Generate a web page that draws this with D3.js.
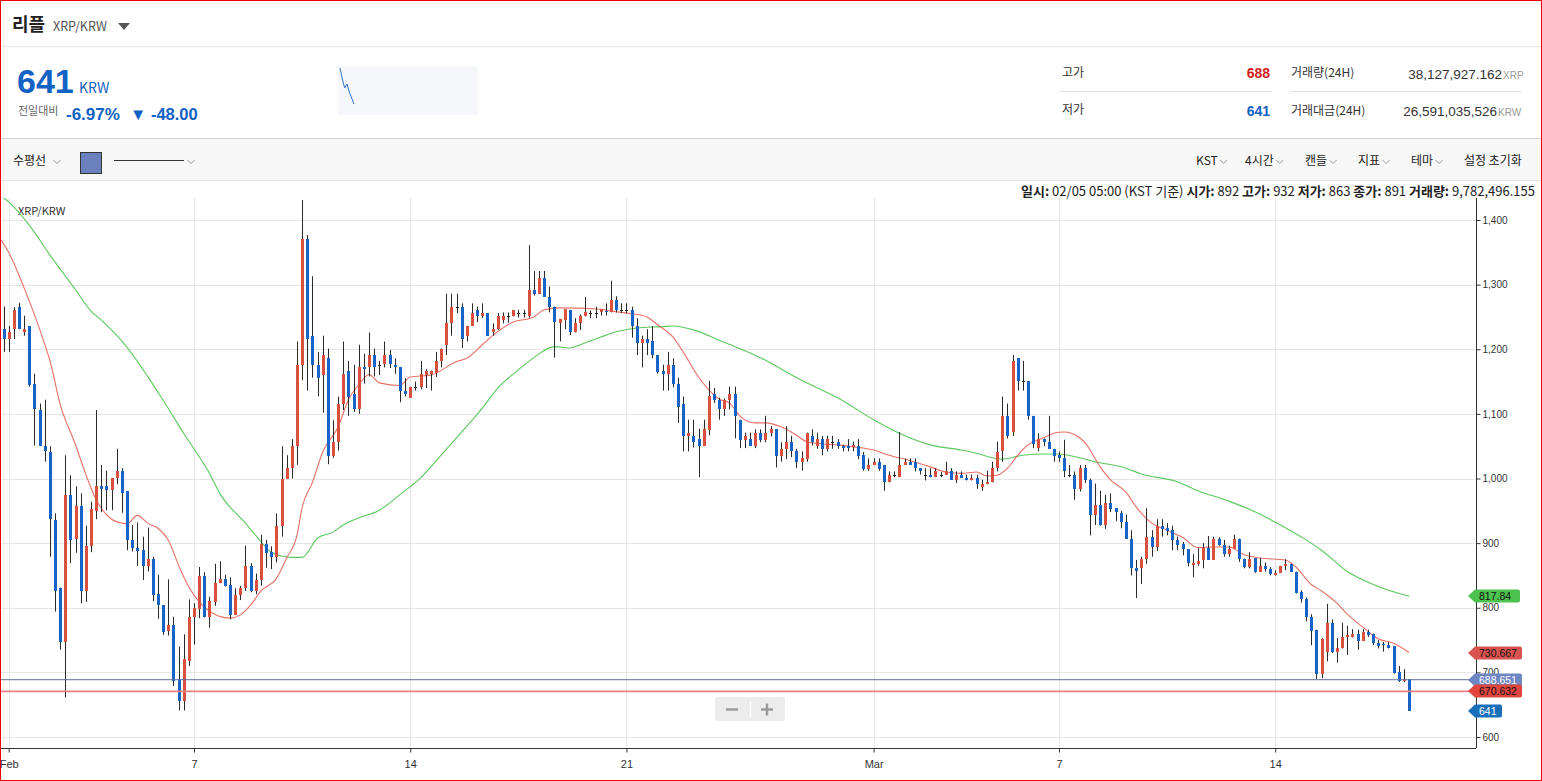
<!DOCTYPE html>
<html><head><meta charset="utf-8">
<script src="https://cdn.jsdelivr.net/npm/d3@7"></script>
<style>
html,body{margin:0;padding:0;background:#fff;}
body{width:1542px;height:781px;overflow:hidden;font-family:"Noto Sans CJK KR","Noto Sans",sans-serif;}
svg{display:block;}
</style></head><body>
<svg id="c" width="1542" height="781"></svg>
<script>
// ---------- DATA ----------
const firstCandleUTC = Date.UTC(2022, 0, 31, 20, 0); // 4-hour candles
const opens = [1231,1216,1231,1266,1226,1236,1146,1106,1051,1041, 936,831,747,975,906,957,826,895,950,988,
 988,982,1001,1012,980,905,893,889,865,875, 821,804,764,773,689,655,718,786,798,849,
 786,809,838,844,835,789,819,830,865,826, 843,899,887,878,926,1000,1016,1051,1176,1371,
 1221,1176,1160,1186,1035,1056,1116,1167,1131,1107, 1172,1172,1191,1176,1177,1191,1176,1172,1136,1125,
 1141,1141,1160,1161,1164,1182,1206,1241,1265,1265, 1221,1236,1261,1251,1256,1226,1231,1246,1252,1252,
 1256,1256,1251,1292,1286,1311,1281,1266,1241,1246, 1261,1226,1241,1251,1256,1256,1257,1259,1257,1276,
 1260,1260,1261,1236,1210,1216,1212,1191,1166,1161, 1176,1146,1116,1066,1066,1061,1051,1075,1131,1121,
 1107,1121,1131,1091,1060,1061,1051,1071,1060,1071, 1076,1035,1046,1056,1042,1026,1030,1066,1051,1061,
 1046,1056,1057,1051,1051,1049,1051,1036,1015,1021, 1026,1021,994,1006,1002,1021,1026,1026,1016,1006,
 1006,1002,1006,1006,1012,998,1006,1001,997,1001, 987,991,994,1016,1042,1097,1072,1186,1151,1151,
 1097,1047,1061,1056,1046,1036,1031,1006,1006,984, 1016,998,943,959,928,962,954,946,932,906,
 862,862,875,910,894,927,924,920,905,899, 891,866,868,874,893,874,906,897,883,891,
 906,875,863,877,856,865,860,850,854,864, 868,856,825,813,786,766,698,732,776,732,
 737,754,754,759,749,762,760,746,744,742, 741,701,686,689];
const highs = [1266,1236,1265,1272,1252,1236,1162,1116,1122,1050, 946,831,1036,1005,988,977,927,964,1106,1021,
 1012,1001,1046,1016,980,928,932,910,924,879, 851,804,844,786,740,759,813,807,863,855,
 817,868,872,851,847,830,834,896,869,853, 913,905,895,946,1050,1036,1061,1212,1431,1377,
 1313,1196,1221,1201,1090,1127,1212,1182,1176,1207, 1193,1226,1201,1182,1212,1199,1186,1172,1155,1142,
 1150,1182,1169,1167,1196,1201,1286,1286,1286,1271, 1236,1271,1266,1271,1256,1240,1256,1257,1257,1261,
 1261,1261,1361,1321,1321,1321,1297,1266,1247,1262, 1261,1248,1254,1281,1260,1266,1262,1271,1306,1282,
 1271,1271,1266,1248,1221,1231,1236,1191,1176,1196, 1186,1156,1127,1091,1091,1077,1091,1151,1140,1125,
 1124,1142,1142,1091,1071,1071,1076,1076,1097,1081, 1076,1056,1081,1066,1046,1042,1071,1076,1071,1066,
 1066,1066,1061,1052,1061,1057,1061,1041,1031,1031, 1031,1021,1011,1011,1072,1031,1031,1031,1016,1016,
 1016,1016,1010,1026,1016,1011,1011,1006,1006,1006, 998,1012,1026,1057,1127,1116,1191,1186,1182,1151,
 1097,1070,1062,1097,1046,1042,1060,1021,1011,1021, 1021,1000,992,981,975,977,954,950,944,920,
 874,879,954,920,937,937,931,927,910,902, 891,883,892,900,911,910,909,905,896,913,
 907,876,886,877,877,870,863,858,865,875, 868,856,827,816,790,766,753,806,782,753,
 777,772,767,766,767,766,760,750,747,747, 741,710,705,689];
const lows = [1196,1196,1216,1231,1221,1142,1051,1050,1026,879, 794,735,661,869,885,807,809,886,937,948,
 951,951,991,947,889,887,865,843,856,810, 783,758,757,679,641,641,710,743,784,785,
 769,803,838,833,782,789,812,826,824,821, 834,862,860,870,910,1000,1000,1021,1152,1136,
 1156,1127,1102,1022,1032,1043,1106,1097,1103,1100, 1147,1158,1158,1160,1172,1171,1162,1118,1127,1125,
 1136,1138,1140,1136,1157,1172,1191,1221,1256,1202, 1212,1236,1242,1248,1221,1221,1230,1240,1241,1251,
 1249,1249,1249,1283,1286,1281,1257,1187,1212,1231, 1222,1226,1230,1251,1248,1248,1252,1252,1257,1257,
 1256,1256,1218,1191,1172,1191,1186,1162,1136,1136, 1141,1086,1042,1042,1048,1002,1051,1067,1117,1091,
 1097,1107,1062,1047,1047,1051,1047,1056,1056,1065, 1017,1026,1030,1033,1016,1012,1026,1051,1046,1036,
 1042,1046,1046,1042,1042,1042,1030,1012,1012,1021, 1012,981,994,1002,1002,1021,1021,1011,1006,997,
 1002,1002,1002,1006,998,993,1001,997,997,984, 981,991,994,1011,1026,1062,1066,1136,1136,1091,
 1047,1042,1050,1046,1026,1026,1002,1002,967,980, 993,912,928,927,922,948,934,923,907,850,
 815,837,868,879,888,910,912,889,889,881, 864,847,865,861,874,874,896,879,879,891,
 871,861,861,854,856,856,850,850,854,858, 856,822,808,779,742,690,691,717,730,715,
 737,727,754,735,749,755,742,737,732,737, 698,685,685,641];
const closes = [1216,1227,1261,1231,1231,1145,1107,1051,1042,937, 826,747,975,905,957,826,895,953,988,984,
 982,1001,1012,978,905,893,888,865,875,820, 804,763,773,687,655,721,785,799,849,786,
 810,839,844,833,789,820,831,865,826,843, 899,885,878,927,1000,1016,1050,1176,1371,1216,
 1176,1156,1191,1035,1056,1116,1162,1126,1107,1172, 1170,1191,1172,1176,1191,1177,1172,1136,1131,1142,
 1141,1161,1167,1167,1182,1201,1241,1265,1265,1216, 1236,1256,1251,1256,1221,1231,1252,1252,1252,1261,
 1256,1256,1292,1286,1311,1281,1266,1242,1247,1262, 1226,1240,1252,1257,1256,1256,1262,1257,1276,1261,
 1260,1260,1236,1210,1216,1210,1191,1165,1161,1176, 1146,1111,1066,1070,1056,1051,1077,1127,1121,1107,
 1122,1131,1096,1060,1066,1051,1071,1060,1071,1076, 1035,1046,1057,1042,1026,1031,1071,1056,1061,1046,
 1061,1056,1051,1047,1047,1052,1035,1015,1021,1026, 1015,994,1006,1006,1021,1026,1021,1016,1011,1006,
 1002,1012,1006,1012,998,1006,1001,997,1001,991, 992,995,1016,1041,1097,1066,1182,1151,1151,1096,
 1053,1061,1056,1046,1035,1031,1011,1006,984,1016, 998,943,959,928,962,953,948,932,907,862,
 857,875,910,894,927,922,919,905,897,891, 870,870,872,893,874,906,897,883,891,907,
 875,863,875,856,865,860,852,854,865,868, 856,823,813,786,764,697,751,776,732,737,
 755,758,759,749,762,758,746,741,743,737, 699,687,689,641];

// moving-average lines (candle index, value)
const ma15At  = [-1,1,4,8,9,11,14,16,18,21,23,24,26,28,30,32,34,36,38,41,44,46,48,50,53,55,57,58,60,62,65,67,69,71,73,77,79,83,88,90,93,95,99,103,105,108,116,118,122,125,127,130,132,135,137,139,141,143,146,148,151,154,156,160,162,165,169,172,176,180,183,186,189,191,193,195,197,199,202,204,206,209,210,213,215,218,220,223,226,229,232,235,238,241,244,249,251,254,256,259,261,264,267,270,273];
const ma15Val = [1375,1350,1295,1208,1183,1115,1052,1006,967,937,931,930,943,931,923,905,866,832,809,790,784,789,804,826,845,877,912,955,994,1041,1080,1122,1145,1161,1148,1144,1157,1160,1181,1186,1207,1221,1242,1250,1261,1264,1262,1259,1255,1250,1238,1219,1196,1157,1137,1123,1117,1097,1086,1086,1080,1067,1057,1053,1052,1049,1044,1036,1028,1018,1010,1008,1010,1004,1005,1016,1036,1052,1063,1070,1072,1063,1056,1018,998,979,956,931,920,909,893,894,894,882,877,874,863,836,826,807,790,770,752,745,730.667];
const ma50At  = [-1,1,5,9,14,17,19,24,28,31,35,40,42,47,49,52,54,56,58,61,64,66,69,73,77,81,85,89,93,96,100,103,107,110,112,116,119,123,128,130,134,139,147,155,162,169,174,180,186,189,192,194,198,202,205,209,212,218,221,228,232,238,244,248,253,256,261,267,273];
const ma50Val = [1440,1428,1392,1346,1292,1259,1245,1203,1158,1121,1070,1008,977,931,912,886,880,878,878,908,917,928,939,951,975,1001,1036,1072,1109,1140,1168,1187,1204,1202,1207,1219,1227,1233,1235,1236,1230,1214,1187,1152,1125,1091,1070,1052,1044,1039,1032,1030,1036,1038,1038,1032,1026,1016,1007,995,981,965,945,928,905,889,856,833,817.84];

const yTicks = [600,700,800,900,1000,1100,1200,1300,1400];
const xTickDates = [[2022,1,1],[2022,1,7],[2022,1,14],[2022,1,21],[2022,2,1],[2022,2,7],[2022,2,14]];
const xTickLabels = ["Feb","7","14","21","Mar","7","14"];
const lineBlueValue = 688.651, lineRedValue = 670.632, lastPrice = 641;
const ma50Last = 817.84, ma15Last = 730.667;

// ---------- SETUP ----------
const svg = d3.select("#c");
const W = 1542, H = 781;
const P = {l:0, r:1476, t:198, b:748};
const FONT = '"Noto Sans CJK KR","Noto Sans",sans-serif';
const NUMF = '"Liberation Sans",Arial,sans-serif';
const UP = "#d9503f", DOWN = "#1863c6";

const x = d3.scaleUtc().domain([Date.UTC(2022,1,7), Date.UTC(2022,2,14)]).range([194, 1275.2]);
const y = d3.scaleLinear().domain([600,1400]).range([737, 220]);
const tOf = i => new Date(firstCandleUTC + i*4*3600e3);

// ---------- HEADER ----------
svg.append("rect").attr("width",W).attr("height",H).attr("fill","#fff");
const hdr = svg.append("g").attr("font-family",FONT);
hdr.append("text").attr("x",12).attr("y",31).attr("font-size",18).attr("font-weight","bold").attr("fill","#222").text("리플");
hdr.append("text").attr("x",53).attr("y",31).attr("font-size",12.5).attr("fill","#555").text("XRP/KRW");
hdr.append("path").attr("d","M118,23 L130,23 L124,30 Z").attr("fill","#555");
hdr.append("line").attr("x1",0).attr("x2",W).attr("y1",46.5).attr("y2",46.5).attr("stroke","#e8e8e8");

hdr.append("text").attr("x",17).attr("y",93).attr("font-size",34).attr("font-weight","bold").attr("fill","#1261c4").attr("font-family",NUMF).text("641");
hdr.append("text").attr("x",79).attr("y",93).attr("font-size",14).attr("fill","#1261c4").text("KRW");
hdr.append("text").attr("x",18).attr("y",115).attr("font-size",11).attr("fill","#666").text("전일대비");
hdr.append("text").attr("x",66).attr("y",120).attr("font-size",17).attr("font-weight","bold").attr("fill","#1261c4").attr("font-family",NUMF).text("-6.97%");
hdr.append("text").attr("x",130).attr("y",120).attr("font-size",16.5).attr("font-weight","bold").attr("fill","#1261c4").attr("font-family",NUMF).text("▼ -48.00");

// sparkline box
hdr.append("rect").attr("x",338).attr("y",66).attr("width",140).attr("height",49).attr("fill","#f5f7fb");
const sparkVals = [1261,1151,1060,1100,1020,960,900];
const sx = d3.scaleLinear().domain([0,sparkVals.length-1]).range([340,354]);
const sy = d3.scaleLinear().domain([900,1261]).range([104,68]);
hdr.append("path").attr("d",d3.line().x((d,i)=>sx(i)).y(d=>sy(d))(sparkVals))
  .attr("fill","none").attr("stroke","#2d73d6").attr("stroke-width",1);

// right stats
const st = hdr.append("g").attr("font-size",12);
st.append("text").attr("x",1062).attr("y",77).attr("fill","#333").text("고가");
st.append("text").attr("x",1270).attr("y",78).attr("text-anchor","end").attr("font-weight","bold").attr("font-size",14).attr("fill","#d01c1c").attr("font-family",NUMF).text("688");
st.append("line").attr("x1",1060).attr("x2",1272).attr("y1",91.5).attr("y2",91.5).attr("stroke","#e2e2e2");
st.append("text").attr("x",1062).attr("y",114).attr("fill","#333").text("저가");
st.append("text").attr("x",1270).attr("y",116).attr("text-anchor","end").attr("font-weight","bold").attr("font-size",14).attr("fill","#1261c4").attr("font-family",NUMF).text("641");
st.append("text").attr("x",1291).attr("y",77).attr("fill","#333").text("거래량(24H)");
st.append("line").attr("x1",1290).attr("x2",1521).attr("y1",91.5).attr("y2",91.5).attr("stroke","#e2e2e2");
st.append("text").attr("x",1291).attr("y",115).attr("fill","#333").text("거래대금(24H)");
st.append("text").attr("x",1502).attr("y",79).attr("text-anchor","end").attr("font-size",13.5).attr("fill","#333").attr("font-family",NUMF).text("38,127,927.162");
st.append("text").attr("x",1503).attr("y",79).attr("font-size",10).attr("fill","#999").attr("font-family",NUMF).text("XRP");
st.append("text").attr("x",1497).attr("y",116).attr("text-anchor","end").attr("font-size",13.5).attr("fill","#333").attr("font-family",NUMF).text("26,591,035,526");
st.append("text").attr("x",1498).attr("y",116).attr("font-size",10).attr("fill","#999").attr("font-family",NUMF).text("KRW");

// toolbar
svg.append("rect").attr("x",0).attr("y",138).attr("width",W).attr("height",42).attr("fill","#f7f7f7");
svg.append("line").attr("x1",0).attr("x2",W).attr("y1",138.5).attr("y2",138.5).attr("stroke","#d4d4d4");
svg.append("line").attr("x1",0).attr("x2",W).attr("y1",180.5).attr("y2",180.5).attr("stroke","#e4e4e4");
const tb = svg.append("g").attr("font-family",FONT).attr("font-size",12).attr("fill","#222");
function chevron(cx, cy){ tb.append("path").attr("d",`M${cx-3.5},${cy-2} L${cx},${cy+1.5} L${cx+3.5},${cy-2}`).attr("fill","none").attr("stroke","#999").attr("stroke-width",1); }
tb.append("text").attr("x",13).attr("y",165).text("수평선");
chevron(57,162);
tb.append("rect").attr("x",80.5).attr("y",152.5).attr("width",21).attr("height",21).attr("fill","#6a81bd").attr("stroke","#333");
tb.append("line").attr("x1",114).attr("x2",184).attr("y1",160.5).attr("y2",160.5).attr("stroke","#333");
chevron(191,162);
const tItems = [["KST",1196],["4시간",1245],["캔들",1305],["지표",1358],["테마",1411]];
tItems.forEach(([t,xx])=>{
  const el = tb.append("text").attr("x",xx).attr("y",165).text(t);
  const w = el.node().getComputedTextLength();
  chevron(xx+w+6,162);
});
tb.append("text").attr("x",1464).attr("y",165).text("설정 초기화");

// info line
const info = svg.append("text").attr("x",1535).attr("y",196).attr("text-anchor","end").attr("font-family",FONT).attr("font-size",13).attr("fill","#222");
[["일시:",1],[" 02/05 05:00 (KST 기준) ",0],["시가:",1],[" 892 ",0],["고가:",1],[" 932 ",0],["저가:",1],[" 863 ",0],["종가:",1],[" 891 ",0],["거래량:",1],[" 9,782,496.155",0]]
 .forEach(([t,b])=>info.append("tspan").attr("font-weight",b?"bold":"normal").text(t));

// ---------- CHART ----------
const g = svg.append("g");
g.append("defs").append("clipPath").attr("id","clip").append("rect").attr("x",P.l).attr("y",P.t).attr("width",P.r-P.l).attr("height",P.b-P.t);

// grid
g.append("g").selectAll("line").data(yTicks).join("line")
 .attr("x1",P.l).attr("x2",P.r).attr("y1",d=>Math.round(y(d))+0.5).attr("y2",d=>Math.round(y(d))+0.5).attr("stroke","#e6e6e6");
const xTicks = xTickDates.map(d=>new Date(Date.UTC(d[0],d[1],d[2])));
g.append("g").selectAll("line").data(xTicks).join("line")
 .attr("x1",d=>Math.round(x(d))+0.5).attr("x2",d=>Math.round(x(d))+0.5).attr("y1",P.t).attr("y2",P.b).attr("stroke","#e6e6e6");

g.append("text").attr("x",18).attr("y",215).attr("font-family",FONT).attr("font-size",11).attr("fill","#333").text("XRP/KRW");

const plot = g.append("g").attr("clip-path","url(#clip)");

// MA lines
const ma15 = ma15At.map((i,k)=>({t:tOf(i), v:ma15Val[k]}));
const ma50 = ma50At.map((i,k)=>({t:tOf(i), v:ma50Val[k]}));
const ln = d3.line().x(d=>x(d.t)).y(d=>y(d.v)).curve(d3.curveMonotoneX);
plot.append("path").attr("d",ln(ma50)).attr("fill","none").attr("stroke","#5cc95c").attr("stroke-width",1.1);
plot.append("path").attr("d",ln(ma15)).attr("fill","none").attr("stroke","#e4574c").attr("stroke-width",1.1).attr("opacity",0.85);

// candles
const candles = closes.map((c,i)=>({t:tOf(i), o:opens[i], h:highs[i], l:lows[i], c}));
const cg = plot.append("g");
candles.forEach(d=>{
  const cx = Math.round(x(d.t));
  cg.append("line").attr("x1",cx+0.5).attr("x2",cx+0.5).attr("y1",y(d.h)).attr("y2",y(d.l)).attr("stroke","#2a2a2a").attr("stroke-width",1);
  const top = Math.round(y(Math.max(d.o,d.c))), bot = Math.round(y(Math.min(d.o,d.c)));
  const col = d.c > d.o ? UP : (d.c < d.o ? DOWN : "#222");
  cg.append("rect").attr("x",cx-1).attr("y",top).attr("width",3).attr("height",Math.max(1,bot-top)).attr("fill",col);
});

// horizontal user lines
plot.append("line").attr("x1",P.l).attr("x2",P.r).attr("y1",y(lineRedValue)).attr("y2",y(lineRedValue)).attr("stroke","#e88080").attr("stroke-width",1.6);
plot.append("line").attr("x1",P.l).attr("x2",P.r).attr("y1",y(lineBlueValue)).attr("y2",y(lineBlueValue)).attr("stroke","#5f6f9c").attr("stroke-width",1);

// axes
g.append("line").attr("x1",P.r+0.5).attr("x2",P.r+0.5).attr("y1",P.t).attr("y2",P.b).attr("stroke","#333");
g.append("line").attr("x1",P.l).attr("x2",P.r).attr("y1",P.b+0.5).attr("y2",P.b+0.5).attr("stroke","#333");
const yAxis = d3.axisRight(y).tickValues(yTicks).tickSize(4).tickFormat(d3.format(","));
const ya = g.append("g").attr("transform",`translate(${P.r+0.5},0)`).call(yAxis);
ya.select(".domain").remove();
ya.selectAll("text").attr("font-family",NUMF).attr("font-size",10).attr("fill","#333").attr("x",6);
ya.selectAll("line").attr("stroke","#333");
const xAxis = d3.axisBottom(x).tickValues(xTicks).tickSize(4).tickFormat((d,i)=>xTickLabels[i]);
const xa = g.append("g").attr("transform",`translate(0,${P.b+0.5})`).call(xAxis);
xa.select(".domain").remove();
xa.selectAll("text").attr("font-family",NUMF).attr("font-size",11).attr("fill","#333").attr("dy","1.1em");
xa.selectAll("line").attr("stroke","#333");

// zoom control
const zc = svg.append("g");
zc.append("rect").attr("x",715).attr("y",697).attr("width",70).attr("height",24).attr("rx",2).attr("fill","#ececec");
zc.append("line").attr("x1",750.5).attr("x2",750.5).attr("y1",701).attr("y2",717).attr("stroke","#fff").attr("stroke-width",1.5);
zc.append("line").attr("x1",726).attr("x2",738).attr("y1",709.5).attr("y2",709.5).attr("stroke","#999").attr("stroke-width",2.4);
zc.append("line").attr("x1",761).attr("x2",773).attr("y1",709.5).attr("y2",709.5).attr("stroke","#999").attr("stroke-width",2.4);
zc.append("line").attr("x1",767).attr("x2",767).attr("y1",703.5).attr("y2",715.5).attr("stroke","#999").attr("stroke-width",2.4);

// price tags
function tag(v, txt, fill, tc, w){
  const yc = Math.round(y(v)), x0 = 1468, h = 6.5;
  svg.append("path").attr("d",`M${x0},${yc} L${x0+7},${yc-h} L${x0+w-2},${yc-h} Q${x0+w},${yc-h} ${x0+w},${yc-h+2} L${x0+w},${yc+h-2} Q${x0+w},${yc+h} ${x0+w-2},${yc+h} L${x0+7},${yc+h} Z`).attr("fill",fill);
  svg.append("text").attr("x",x0+11).attr("y",yc+4).attr("font-family",NUMF).attr("font-size",10.5).attr("fill",tc).text(txt);
}
tag(ma50Last, "817.84", "#4ec24e", "#111", 52);
tag(ma15Last, "730.667", "#d9534f", "#111", 54);
tag(lineBlueValue, "688.651", "#6e86c2", "#fff", 54);
tag(lineRedValue, "670.632", "#e0463f", "#111", 54);
tag(lastPrice, "641", "#1a6fb8", "#fff", 34);

// page border
svg.append("rect").attr("x",0.5).attr("y",0.5).attr("width",W-1).attr("height",H-1).attr("fill","none").attr("stroke","#e00").attr("stroke-width",1);
</script>
</body></html>
